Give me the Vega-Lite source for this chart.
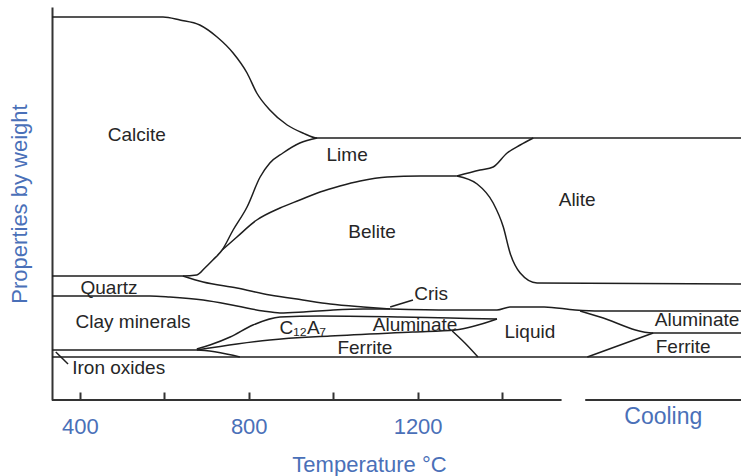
{
  "$schema": "https://vega.github.io/schema/vega-lite/v6.json",
  "width": 689,
  "height": 393,
  "autosize": "none",
  "padding": {"left": 52, "top": 7, "right": 0, "bottom": 76},
  "config": {"view": {"stroke": null}},
  "datasets": {
    "lines": [
      {"s":"top","T":334,"v":383},{"s":"top","T":597,"v":383},{"s":"top","T":637,"v":380},{"s":"top","T":684,"v":375},{"s":"top","T":725,"v":363},{"s":"top","T":763,"v":347},{"s":"top","T":796,"v":327},{"s":"top","T":819,"v":307},{"s":"top","T":850,"v":290},{"s":"top","T":891,"v":275},{"s":"top","T":928,"v":267},{"s":"top","T":962,"v":262},{"s":"top","T":1966,"v":262},
      {"s":"qtop","T":334,"v":124},{"s":"qtop","T":644,"v":124},{"s":"qtop","T":677,"v":125},{"s":"qtop","T":696,"v":132},{"s":"qtop","T":715,"v":140},{"s":"qtop","T":737,"v":150},{"s":"qtop","T":763,"v":170},{"s":"qtop","T":796,"v":193},{"s":"qtop","T":827,"v":223},{"s":"qtop","T":850,"v":237},{"s":"qtop","T":881,"v":247},{"s":"qtop","T":921,"v":257},{"s":"qtop","T":962,"v":262},
      {"s":"limeBelite","T":737,"v":150},{"s":"limeBelite","T":772,"v":163},{"s":"limeBelite","T":819,"v":180},{"s":"limeBelite","T":874,"v":192},{"s":"limeBelite","T":921,"v":200},{"s":"limeBelite","T":969,"v":208},{"s":"limeBelite","T":1016,"v":214},{"s":"limeBelite","T":1064,"v":219},{"s":"limeBelite","T":1128,"v":223},{"s":"limeBelite","T":1206,"v":224},{"s":"limeBelite","T":1293,"v":224},
      {"s":"limeAlite","T":1293,"v":224},{"s":"limeAlite","T":1348,"v":230},{"s":"limeAlite","T":1379,"v":233},{"s":"limeAlite","T":1412,"v":247},{"s":"limeAlite","T":1443,"v":255},{"s":"limeAlite","T":1474,"v":262},
      {"s":"beliteAlite","T":1293,"v":224},{"s":"beliteAlite","T":1341,"v":216},{"s":"beliteAlite","T":1379,"v":197},{"s":"beliteAlite","T":1403,"v":173},{"s":"beliteAlite","T":1419,"v":147},{"s":"beliteAlite","T":1443,"v":127},{"s":"beliteAlite","T":1483,"v":117},{"s":"beliteAlite","T":1966,"v":116},
      {"s":"beliteBottom","T":644,"v":124},{"s":"beliteBottom","T":692,"v":118},{"s":"beliteBottom","T":772,"v":112},{"s":"beliteBottom","T":850,"v":105},{"s":"beliteBottom","T":928,"v":100},{"s":"beliteBottom","T":993,"v":96},{"s":"beliteBottom","T":1071,"v":93},{"s":"beliteBottom","T":1135,"v":91},
      {"s":"liquidTop","T":1135,"v":91},{"s":"liquidTop","T":1277,"v":90},{"s":"liquidTop","T":1388,"v":90},{"s":"liquidTop","T":1419,"v":93},{"s":"liquidTop","T":1500,"v":93},{"s":"liquidTop","T":1573,"v":90},{"s":"liquidTop","T":1632,"v":89},{"s":"liquidTop","T":1966,"v":89},
      {"s":"quartzBottom","T":334,"v":104},{"s":"quartzBottom","T":566,"v":104},{"s":"quartzBottom","T":613,"v":103},{"s":"quartzBottom","T":692,"v":100},{"s":"quartzBottom","T":772,"v":94},{"s":"quartzBottom","T":834,"v":89},{"s":"quartzBottom","T":874,"v":87},{"s":"quartzBottom","T":930,"v":88},{"s":"quartzBottom","T":1000,"v":90},{"s":"quartzBottom","T":1071,"v":91},{"s":"quartzBottom","T":1135,"v":91},
      {"s":"c12a7Top","T":677,"v":51},{"s":"c12a7Top","T":708,"v":55},{"s":"c12a7Top","T":756,"v":63},{"s":"c12a7Top","T":810,"v":75},{"s":"c12a7Top","T":874,"v":83},{"s":"c12a7Top","T":969,"v":84},{"s":"c12a7Top","T":1158,"v":83},{"s":"c12a7Top","T":1277,"v":82},{"s":"c12a7Top","T":1388,"v":81},
      {"s":"ferriteTop","T":677,"v":50},{"s":"ferriteTop","T":772,"v":56},{"s":"ferriteTop","T":850,"v":60},{"s":"ferriteTop","T":993,"v":64},{"s":"ferriteTop","T":1189,"v":68},{"s":"ferriteTop","T":1289,"v":70},{"s":"ferriteTop","T":1388,"v":81},
      {"s":"ferriteLiquid","T":1282,"v":69},{"s":"ferriteLiquid","T":1312,"v":57},{"s":"ferriteLiquid","T":1343,"v":43},
      {"s":"clayBottom","T":334,"v":50},{"s":"clayBottom","T":677,"v":50},{"s":"clayBottom","T":779,"v":43},
      {"s":"bottom","T":334,"v":43},{"s":"bottom","T":1966,"v":43},
      {"s":"coolUpper","T":1585,"v":89},{"s":"coolUpper","T":1632,"v":83},{"s":"coolUpper","T":1758,"v":67},{"s":"coolUpper","T":1966,"v":67},
      {"s":"coolLower","T":1602,"v":43},{"s":"coolLower","T":1758,"v":67},
      {"s":"ironLeader","T":343,"v":48},{"s":"ironLeader","T":372,"v":36},
      {"s":"crisLeader","T":1135,"v":93},{"s":"crisLeader","T":1189,"v":100}
    ],
    "axislines": [
      {"s":"a1","T":334,"v":0},{"s":"a1","T":1541,"v":0},
      {"s":"a2","T":1597,"v":0},{"s":"a2","T":1966,"v":0}
    ],
    "labels": [
      {"label":"Calcite","T":535,"v":265},
      {"label":"Lime","T":1033,"v":245},
      {"label":"Belite","T":1092,"v":168},
      {"label":"Alite","T":1578,"v":200},
      {"label":"Quartz","T":469,"v":112},
      {"label":"Cris","T":1232,"v":106},
      {"label":"Clay minerals","T":526,"v":78},
      {"label":"C₁₂A₇","T":928,"v":72},
      {"label":"Aluminate","T":1194,"v":75},
      {"label":"Liquid","T":1466,"v":68},
      {"label":"Ferrite","T":1075,"v":52},
      {"label":"Aluminate","T":1862,"v":80},
      {"label":"Ferrite","T":1829,"v":53},
      {"label":"Iron oxides","T":492,"v":32}
    ],
    "cooling": [
      {"label":"Cooling","T":1782,"v":-17}
    ]
  },
  "layer": [
    {
      "data": {"name": "lines"},
      "mark": {"type": "line", "interpolate": "monotone", "color": "#1e1e1e", "strokeWidth": 1.5},
      "encoding": {
        "x": {"field": "T", "type": "quantitative", "scale": {"domain": [334, 1966], "nice": false, "zero": false},
          "axis": {"values": [400, 600, 800, 1000, 1200, 1400], "domain": false, "grid": false,
            "tickSize": -8, "tickColor": "#333333", "tickWidth": 2,
            "labelExpr": "datum.value % 400 == 0 ? '' + datum.value : ''",
            "labelFont": "Liberation Sans", "labelFontSize": 22, "labelColor": "#4a70b8", "labelPadding": 24,
            "title": "Temperature °C", "titleFont": "Liberation Sans", "titleFontSize": 22, "titleFontWeight": "normal",
            "titleColor": "#4a70b8", "titleX": 317, "titleY": 64, "titleBaseline": "middle"}},
        "y": {"field": "v", "type": "quantitative", "scale": {"domain": [0, 393], "nice": false},
          "axis": {"ticks": false, "labels": false, "grid": false, "domain": true, "domainColor": "#333333", "domainWidth": 2,
            "title": "Properties by weight", "titleFont": "Liberation Sans", "titleFontSize": 22, "titleFontWeight": "normal",
            "titleColor": "#4a70b8", "titlePadding": 26, "titleBaseline": "alphabetic"}},
        "detail": {"field": "s", "type": "nominal"}
      }
    },
    {
      "data": {"name": "axislines"},
      "mark": {"type": "line", "color": "#333333", "strokeWidth": 2},
      "encoding": {
        "x": {"field": "T", "type": "quantitative"},
        "y": {"field": "v", "type": "quantitative"},
        "detail": {"field": "s", "type": "nominal"}
      }
    },
    {
      "data": {"name": "labels"},
      "mark": {"type": "text", "font": "Liberation Sans", "fontSize": 19, "color": "#262626", "baseline": "middle", "align": "center"},
      "encoding": {
        "x": {"field": "T", "type": "quantitative"},
        "y": {"field": "v", "type": "quantitative"},
        "text": {"field": "label"}
      }
    },
    {
      "data": {"name": "cooling"},
      "mark": {"type": "text", "font": "Liberation Sans", "fontSize": 23, "color": "#4a70b8", "baseline": "middle", "align": "center"},
      "encoding": {
        "x": {"field": "T", "type": "quantitative"},
        "y": {"field": "v", "type": "quantitative"},
        "text": {"field": "label"}
      }
    }
  ]
}
